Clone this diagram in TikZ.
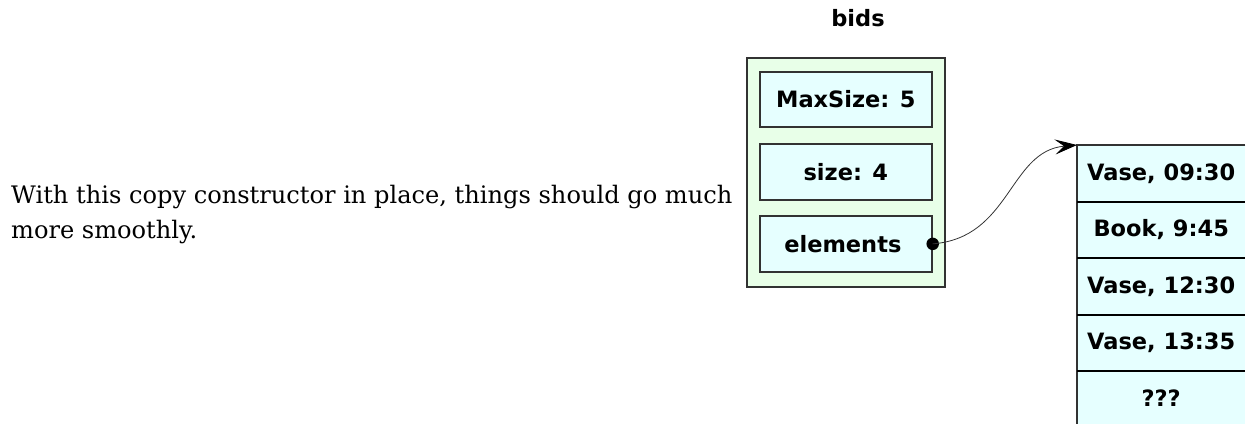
\documentclass[tikz,border=0pt]{standalone}
\usepackage{fontspec}
\newfontfamily\boxfont{DejaVu Sans}
\newfontfamily\prosefont{DejaVu Serif}
\usetikzlibrary{arrows.meta}
\definecolor{objgreen}{RGB}{232,255,232}
\definecolor{cellcyan}{RGB}{230,255,255}
\definecolor{rim}{RGB}{50,50,50}
\begin{document}
\begin{tikzpicture}[x=1pt,y=-1pt,
  body/.style={anchor=base west,inner sep=0pt,font=\prosefont\fontsize{24.1}{29}\selectfont},
  boldlabel/.style={font=\boxfont\bfseries\fontsize{22.5}{26}\selectfont},
  objbox/.style={draw=rim,fill=objgreen,line width=1.5pt,anchor=north west,inner sep=0pt,
    minimum width=198pt,minimum height=229pt},
  field/.style={draw=rim,fill=cellcyan,line width=1.7pt,anchor=north west,inner sep=0pt,
    minimum width=172pt,minimum height=56pt,boldlabel},
  cell/.style={fill=cellcyan,anchor=north west,inner sep=0pt,
    minimum width=168pt,minimum height=56.5pt,boldlabel},
  divider/.style={line width=2pt,black},
  edge/.style={draw=rim,line width=1.2pt},
  link/.style={line width=0.8pt,rim,-{Stealth[length=22pt,width=15pt,inset=9pt,black]}}]
\useasboundingbox (0,0) rectangle (1249,424);

% explanatory text
\node[body] (line1) at (11,203) {With this copy constructor in place, things should go much};
\node[body] (line2) at (11,238) {more smoothly.};

% the bids object and its data members
\node[boldlabel] (title) at (858,18) {bids};
\node[objbox] (bids) at (746,57) {};
\node[field,minimum height=55pt] (maxsize) at (759,71) {MaxSize: 5};
\node[field] (size) at (759,143) {size: 4};
\node[field] (elements) at (759,215) {\hspace*{-6pt}elements};
\node[circle,fill=black,inner sep=0pt,minimum size=12.5pt] (ptr) at (elements.east) {};

% the dynamically allocated array
\node[cell] (c1) at (1077,145) {Vase, 09:30};
\node[cell] (c2) at (1077,201.5) {Book, 9:45};
\node[cell] (c3) at (1077,258) {Vase, 12:30};
\node[cell] (c4) at (1077,314.5) {Vase, 13:35};
\node[cell,minimum height=53pt] (c5) at (1077,371) {???};
\draw[edge] (c1.north east) -- (c1.north west) -- (c5.south west);
\draw[divider] (c1.south west) -- (c1.south east);
\draw[divider] (c2.south west) -- (c2.south east);
\draw[divider] (c3.south west) -- (c3.south east);
\draw[divider] (c4.south west) -- (c4.south east);

% pointer from elements to the array
\draw[link] (ptr.center) .. controls +(78,-6) and +(-68,6) .. (c1.north west);
\end{tikzpicture}
\end{document}
